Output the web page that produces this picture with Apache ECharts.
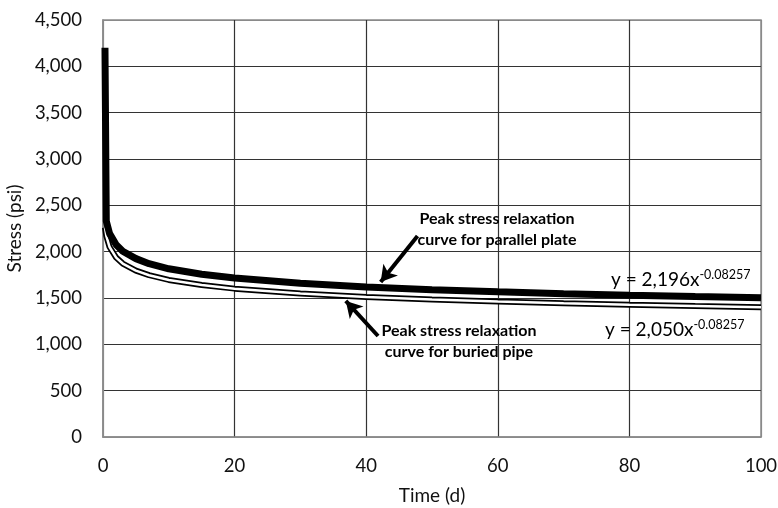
<!DOCTYPE html>
<html>
<head>
<meta charset="utf-8">
<script src="https://cdn.jsdelivr.net/npm/echarts@6/dist/echarts.min.js"></script>
<style>
html,body{margin:0;padding:0;background:#fff;}
#chart{width:778px;height:508px;}
</style>
</head>
<body>
<div id="chart"></div>
<script>
// ---- data ----
var xTicks = [0, 20, 40, 60, 80, 100];
var yTicks = [0, 500, 1000, 1500, 2000, 2500, 3000, 3500, 4000, 4500];

var plateTime   = [0.3, 0.5, 1, 2, 3, 5, 7, 10, 15, 20, 30, 40, 50, 60, 70, 80, 90, 100];
var plateStress = [4200, 2330, 2195, 2075, 2005, 1925, 1870, 1815, 1757, 1715, 1658, 1620, 1590, 1567, 1547, 1530, 1515, 1502];

var pipeTime   = [0.3, 0.5, 1, 2, 3, 5, 7, 10, 15, 20, 30, 40, 50, 60, 70, 80, 90, 100];
var pipeStress = [2260, 2170, 2050, 1936, 1872, 1795, 1746, 1695, 1640, 1601, 1548, 1512, 1485, 1463, 1444, 1428, 1414, 1401];

var plateEquation = {text: 'y = 2,196x', exp: '-0.08257'};
var pipeEquation  = {text: 'y = 2,050x', exp: '-0.08257'};
var plateNote = ['Peak stress relaxation', 'curve for parallel plate'];
var pipeNote  = ['Peak stress relaxation', 'curve for buried pipe'];

// arrow annotations in data coordinates [time, stress]
var plateArrow = [[47.8, 2170], [42.2, 1672]];
var pipeArrow  = [[41.8, 1090], [36.9, 1468]];

function zip(a, b) { return a.map(function (v, i) { return [v, b[i]]; }); }

var FONT = 'Lato, "Open Sans", sans-serif';
var chart = echarts.init(document.getElementById('chart'), null, {renderer: 'canvas'});

var ySplitColors = yTicks.map(function (v, i) { return (i === 0 || i === yTicks.length - 1) ? '#8a8a8a' : '#333'; });
var xSplitColors = xTicks.map(function (v, i) { return (i === 0 || i === xTicks.length - 1) ? '#8a8a8a' : '#333'; });

function arrowLine(pts) {
  return {
    silent: true,
    symbol: ['none', 'arrow'],
    symbolSize: [14, 16],
    label: {show: false},
    lineStyle: {color: '#000', width: 4, type: 'solid'},
    animation: false,
    data: [[{coord: pts[0]}, {coord: pts[1]}]]
  };
}

var option = {
  animation: false,
  backgroundColor: '#fff',
  grid: {left: 103, top: 20, right: 17, bottom: 71, containLabel: false, outerBoundsMode: 'none',
         show: true, borderColor: '#8a8a8a', borderWidth: 1.5},
  xAxis: {
    type: 'value', min: xTicks[0], max: xTicks[xTicks.length - 1], interval: 20,
    name: 'Time (d)', nameLocation: 'middle', nameGap: 49,
    nameTextStyle: {fontFamily: FONT, fontSize: 19, color: '#111'},
    axisLine: {show: true, lineStyle: {color: '#8a8a8a', width: 1.5}},
    axisTick: {show: false},
    axisLabel: {fontFamily: FONT, fontSize: 18.5, color: '#111', margin: 20},
    splitLine: {show: true, lineStyle: {color: xSplitColors, width: 1.2}}
  },
  yAxis: {
    type: 'value', min: yTicks[0], max: yTicks[yTicks.length - 1], interval: 500,
    name: 'Stress (psi)', nameLocation: 'middle', nameGap: 76,
    nameTextStyle: {fontFamily: FONT, fontSize: 19, color: '#111'},
    axisLine: {show: true, lineStyle: {color: '#8a8a8a', width: 1.5}},
    axisTick: {show: false},
    axisLabel: {fontFamily: FONT, fontSize: 18.5, color: '#111', margin: 21,
      formatter: function (v) { return v.toLocaleString('en-US'); }},
    splitLine: {show: true, lineStyle: {color: ySplitColors, width: 1.2}}
  },
  series: [
    {name: 'pipeOuter', type: 'line', data: zip(pipeTime, pipeStress), showSymbol: false, symbol: 'none',
     lineStyle: {color: '#000', width: 6}, z: 2},
    {name: 'pipeInner', type: 'line', data: zip(pipeTime, pipeStress), showSymbol: false, symbol: 'none',
     lineStyle: {color: '#fff', width: 2.5}, z: 3},
    {name: 'plate', type: 'line', data: zip(plateTime, plateStress), showSymbol: false, symbol: 'none',
     lineStyle: {color: '#000', width: 7}, z: 4,
     markLine: arrowLine(plateArrow)},
    {name: 'arrow2', type: 'line', data: [], markLine: arrowLine(pipeArrow)}
  ],
  graphic: [
    {type: 'text', z: 10, x: 497, y: 208, style: {
      text: plateNote.join('\n'), font: 'bold 16px ' + FONT, fill: '#000', align: 'center', lineHeight: 21
    }},
    {type: 'text', z: 10, x: 459, y: 320, style: {
      text: pipeNote.join('\n'), font: 'bold 16px ' + FONT, fill: '#000', align: 'center', lineHeight: 21
    }},
    {type: 'text', z: 10, x: 611, y: 268, style: {
      text: '{a|' + plateEquation.text + '}{b|' + plateEquation.exp + '}',
      rich: {a: {fontFamily: FONT, fontSize: 19, color: '#000'},
             b: {fontFamily: FONT, fontSize: 12.5, color: '#000', verticalAlign: 'top', padding: [0, 0, 10, 0]}}
    }},
    {type: 'text', z: 10, x: 605, y: 318, style: {
      text: '{a|' + pipeEquation.text + '}{b|' + pipeEquation.exp + '}',
      rich: {a: {fontFamily: FONT, fontSize: 19, color: '#000'},
             b: {fontFamily: FONT, fontSize: 12.5, color: '#000', verticalAlign: 'top', padding: [0, 0, 10, 0]}}
    }}
  ]
};
chart.setOption(option);
</script>
</body>
</html>
